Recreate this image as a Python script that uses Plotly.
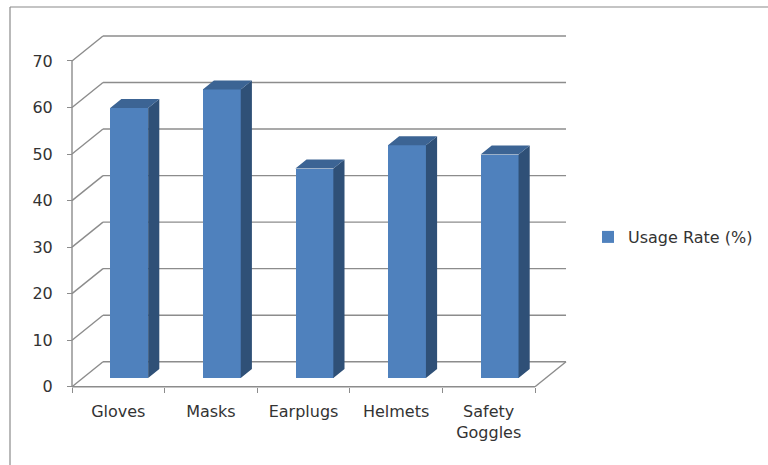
import plotly.graph_objects as go

# ---- data ----
categories = ["Gloves", "Masks", "Earplugs", "Helmets", "Safety<br>Goggles"]
usage_rate = [58, 62, 45, 50, 48]
series_name = "Usage Rate (%)"
y_ticks = [0, 10, 20, 30, 40, 50, 60, 70]

# ---- 3D-look geometry (in data units) ----
DX = 0.335      # depth shift along x (per full depth)
DY = 5.37       # depth shift along y (per full depth)
F = 0.35        # depth at which bars start
B = 0.36        # bar depth fraction
W = 0.41        # bar width
YMAX = 70

FRONT = "#4F81BD"
TOP = "#3C6494"
SIDE = "#2F5077"
GRID = "#8c8c8c"
FONT = dict(family="DejaVu Sans", size=16, color="#333333")

n = len(categories)
xc = [i + 0.5 + F * DX for i in range(n)]
base = F * DY

fig = go.Figure()
fig.add_trace(go.Bar(
    x=xc, y=usage_rate, base=[base] * n, width=W,
    marker=dict(color=FRONT, line=dict(width=0)),
    name=series_name, showlegend=True, hoverinfo="y"))

sx, sy, tx, ty = [], [], [], []
for c, v in zip(xc, usage_rate):
    x0, x1 = c - W / 2, c + W / 2
    top = base + v
    sx += [x1, x1 + B * DX, x1 + B * DX, x1, x1, None]
    sy += [base, base + B * DY, top + B * DY, top, base, None]
    tx += [x0, x1, x1 + B * DX, x0 + B * DX, x0, None]
    ty += [top, top, top + B * DY, top + B * DY, top, None]

fig.add_trace(go.Scatter(x=sx, y=sy, fill="toself", fillcolor=SIDE, mode="lines",
                         line=dict(width=0, color=SIDE), showlegend=False, hoverinfo="skip"))
fig.add_trace(go.Scatter(x=tx, y=ty, fill="toself", fillcolor=TOP, mode="lines",
                         line=dict(width=0, color=TOP), showlegend=False, hoverinfo="skip"))

shapes = []
ln = dict(color=GRID, width=1.4)
for t in y_ticks:
    # back wall gridline
    shapes.append(dict(type="line", xref="x", yref="y", x0=DX, y0=t + DY, x1=n + DX, y1=t + DY,
                       line=ln, layer="below"))
    # left wall oblique
    shapes.append(dict(type="line", xref="x", yref="y", x0=0, y0=t, x1=DX, y1=t + DY,
                       line=ln, layer="below"))
# front axis lines
shapes.append(dict(type="line", xref="x", yref="y", x0=0, y0=0, x1=0, y1=YMAX, line=ln, layer="below"))
shapes.append(dict(type="line", xref="x", yref="y", x0=0, y0=0, x1=n, y1=0, line=ln, layer="below"))
shapes.append(dict(type="line", xref="x", yref="y", x0=n, y0=0, x1=n + DX, y1=DY, line=ln, layer="below"))
# outer chart border (top and left visible)
bx = 10 / 768
by = 1 - 7 / 465
shapes.append(dict(type="line", xref="paper", yref="paper", x0=bx, y0=by, x1=1.05, y1=by,
                   line=dict(color="#8a8a8a", width=1.2)))
shapes.append(dict(type="line", xref="paper", yref="paper", x0=bx, y0=by, x1=bx, y1=-0.05,
                   line=dict(color="#8a8a8a", width=1.2)))

PXX = 92.6
PXY = 4.653
X0PX, Y0PX = 72, 386.7
xr = [-0.1, 5.45]
yr = [-0.5, 76]
xd = [(X0PX + xr[0] * PXX) / 768, (X0PX + xr[1] * PXX) / 768]
yd = [(465 - (Y0PX - yr[0] * PXY)) / 465, (465 - (Y0PX - yr[1] * PXY)) / 465]

fig.update_layout(
    width=768, height=465, autosize=False,
    margin=dict(l=0, r=0, t=0, b=0, pad=0, autoexpand=False),
    paper_bgcolor="white", plot_bgcolor="rgba(0,0,0,0)",
    font=FONT,
    shapes=shapes,
    bargap=0,
    xaxis=dict(range=xr, domain=xd, anchor="free", position=(465 - Y0PX) / 465,
               automargin=False,
               tickmode="array", tickvals=[i + 0.5 for i in range(n)], ticktext=categories,
               ticks="", showgrid=False, zeroline=False, showline=False,
               tickfont=FONT, ticklabelstandoff=13,
               minor=dict(tickmode="array", tickvals=list(range(n + 1)), ticks="outside",
                          ticklen=5, tickcolor=GRID, tickwidth=1.4, showgrid=False)),
    yaxis=dict(range=yr, domain=yd, anchor="free", position=X0PX / 768,
               automargin=False,
               tickmode="array", tickvals=y_ticks, ticks="outside", ticklen=5,
               tickcolor=GRID, tickwidth=1.4, showgrid=False, zeroline=False,
               showline=False, tickfont=FONT, ticklabelstandoff=11),
    legend=dict(x=588 / 768, y=1 - 237 / 465, xanchor="left", yanchor="middle",
                font=FONT, bgcolor="rgba(0,0,0,0)", itemwidth=30),
)

fig.write_html("out.html")
